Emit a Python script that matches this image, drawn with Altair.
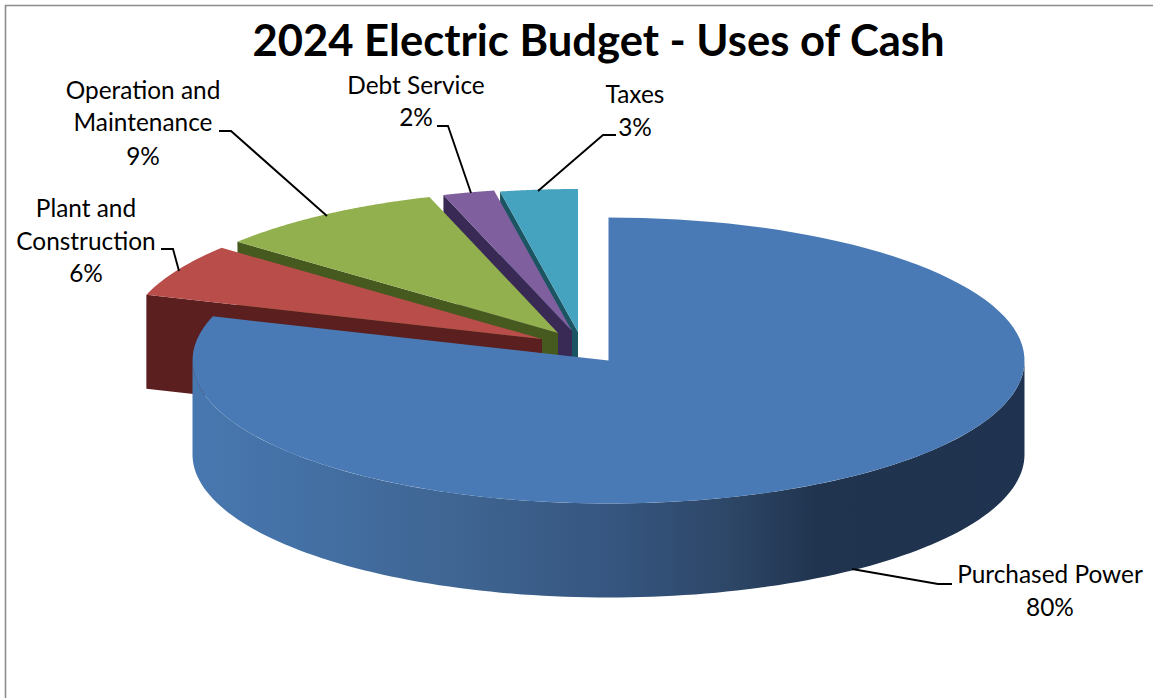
import math
import altair as alt
import pandas as pd

# Budget shares, in percent, clockwise from twelve o'clock
categories = ["Purchased Power", "Plant and Construction", "Operation and Maintenance", "Debt Service", "Taxes"]
shares = [80, 6, 9, 2, 3]

# Face and wall colours per category
face_colors = ["#4a7ab5", "#b94d4a", "#93b04f", "#7f5f9e", "#45a3bf"]
wall_colors = ["#1f3450", "#5a1f1e", "#46591f", "#382a55", "#1b5562"]

# Pixel position of each slice's apex
apex_x = [608.5, 542, 558, 572, 578]
apex_y = [360.5, 339, 333, 331, 332]

RX, RY, DEPTH = 416, 143, 94
W, H = 1153, 698

# Wall shading of the large slice, left to right
wall_stops = [(0.0, "#4878b0"), (0.12, "#4471a6"), (0.32, "#3f6592"), (0.51, "#35557f"),
              (0.65, "#2d4666"), (0.75, "#20344f"), (1.0, "#1f3350")]

# Label lines: text, centre x, baseline y
label_text = ["Operation and", "Maintenance", "9%", "Plant and", "Construction", "6%",
              "Debt Service", "2%", "Taxes", "3%", "Purchased Power", "80%"]
label_x = [143, 143, 143, 86, 86, 86, 416, 416, 635, 635, 1050, 1050]
label_y = [99, 131, 165, 217, 250, 282, 94, 126, 103, 136, 583, 616]

# Leader lines, one polyline per label
leaders = [
    [(161, 249), (173, 249), (179, 271)],
    [(219, 131), (231, 131), (327, 216)],
    [(437, 126), (448, 126), (471, 193)],
    [(616, 135), (603, 135), (538, 191)],
    [(852, 569), (938, 584), (952, 584)],
]

x_scale = alt.Scale(domain=[0, W], range=[0, W])
y_scale = alt.Scale(domain=[0, H], range=[0, H])


def rim(cx, cy, a0, a1, dy=0.0, steps=120):
    pts = []
    for i in range(steps + 1):
        a = math.radians(a0 + (a1 - a0) * i / steps)
        pts.append((cx + RX * math.sin(a), cy - RY * math.cos(a) + dy))
    return pts


def polygon(points, **mark):
    frame = pd.DataFrame({"x": [p[0] for p in points], "y": [p[1] for p in points],
                          "i": list(range(len(points)))})
    return alt.Chart(frame).mark_line(interpolate="linear-closed", strokeWidth=0, **mark).encode(
        x=alt.X("x:Q", scale=x_scale, axis=None),
        y=alt.Y("y:Q", scale=y_scale, axis=None),
        order="i:Q",
    )


# Slice angles accumulate from the shares
starts = []
total = 0
for s in shares:
    starts.append(total * 3.6)
    total += s

layers = []

# Frame around the chart
frame_pts = pd.DataFrame({"x": [5.5, 5.5, W + 5], "y": [H + 5, 5.5, 5.5], "i": [0, 1, 2]})
layers.append(alt.Chart(frame_pts).mark_line(color="#8c8c8c", strokeWidth=1.6, clip=True).encode(
    x=alt.X("x:Q", scale=x_scale, axis=None), y=alt.Y("y:Q", scale=y_scale, axis=None), order="i:Q"))

# Smaller slices back to front: wall on the leading radial edge, then the top face
for k in [4, 3, 2, 1]:
    cx, cy = apex_x[k], apex_y[k]
    a0 = starts[k]
    a1 = a0 + shares[k] * 3.6
    edge = rim(cx, cy, a0, a0, steps=1)[0]
    wall = [edge, (cx, cy), (cx, cy + DEPTH), (edge[0], edge[1] + DEPTH)]
    layers.append(polygon(wall, fill=wall_colors[k]))
    layers.append(polygon([(cx, cy)] + rim(cx, cy, a0, a1), fill=face_colors[k]))

# Large slice: curved front wall under the top face
cx, cy = apex_x[0], apex_y[0]
wall_top = rim(cx, cy, 90, 270)
wall_bottom = rim(cx, cy, 270, 90, dy=DEPTH)
gradient = alt.Gradient(gradient="linear", x1=0, x2=1, y1=0, y2=0,
                        stops=[alt.GradientStop(offset=o, color=c) for o, c in wall_stops])
layers.append(polygon(wall_top + wall_bottom, fill=gradient))
layers.append(polygon([(cx, cy)] + rim(cx, cy, 0, shares[0] * 3.6), fill=face_colors[0]))

# Leader lines
for line in leaders:
    frame = pd.DataFrame({"x": [p[0] for p in line], "y": [p[1] for p in line], "i": list(range(len(line)))})
    layers.append(alt.Chart(frame).mark_line(color="#000000", strokeWidth=1.9).encode(
        x=alt.X("x:Q", scale=x_scale, axis=None), y=alt.Y("y:Q", scale=y_scale, axis=None), order="i:Q"))

# Category and percentage labels
labels = pd.DataFrame({"t": label_text, "x": label_x, "y": label_y})
layers.append(alt.Chart(labels).mark_text(font="Lato", fontSize=24.4, color="#000000", align="center",
                                          baseline="alphabetic").encode(
    x=alt.X("x:Q", scale=x_scale, axis=None), y=alt.Y("y:Q", scale=y_scale, axis=None), text="t:N"))

# Heading
heading = pd.DataFrame({"t": ["2024 Electric Budget - Uses of Cash"], "x": [598.5], "y": [56]})
layers.append(alt.Chart(heading).mark_text(font="Lato", fontSize=43.6, fontWeight="bold", color="#000000",
                                           align="center", baseline="alphabetic").encode(
    x=alt.X("x:Q", scale=x_scale, axis=None), y=alt.Y("y:Q", scale=y_scale, axis=None), text="t:N"))

chart = alt.layer(*layers).properties(
    width=W, height=H, padding=0, autosize=alt.AutoSizeParams(type="none"), background="#ffffff"
).configure_view(stroke=None)

chart.save("out.html", embed_options={"renderer": "svg", "actions": False})
